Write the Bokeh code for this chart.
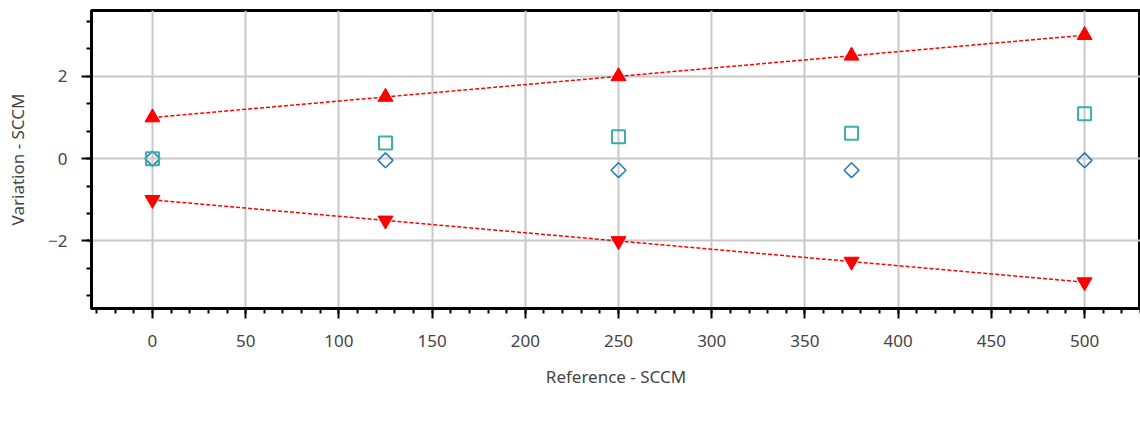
import math
from bokeh.plotting import figure
from bokeh.models import Legend, LegendItem, Range1d, SingleIntervalTicker
from bokeh.embed import file_html
from bokeh.resources import INLINE

reference = [0, 125, 250, 375, 500]
as_left = [0.0, -0.04, -0.28, -0.28, -0.04]
as_found = [0.0, 0.38, 0.53, 0.62, 1.09]
min_acc = [-1.0, -1.5, -2.0, -2.5, -3.0]
max_acc = [1.0, 1.5, 2.0, 2.5, 3.0]
labels = ["Observed Variation - As-Left", "Min. Acceptable Variation",
          "Max Acceptable Variation", "Observed Variation - As-Found"]

FONT = "Noto Sans"
TXT = "#444444"
RED = "#ff0000"
BLUE = "#2b7bba"
TEAL = "#3aafa9"

p = figure(frame_width=1049, frame_height=298, output_backend="svg", toolbar_location=None,
           x_range=Range1d(-32.7, 530.0), y_range=Range1d(-3.64, 3.6),
           min_border_left=91, min_border_right=0, min_border_top=10, min_border_bottom=0)

p.outline_line_color = "black"
p.outline_line_width = 3

for ax in (p.xaxis[0], p.yaxis[0]):
    ax.axis_line_width = 3
    ax.axis_line_color = "black"
    ax.major_tick_line_width = 2
    ax.minor_tick_line_width = 2
    ax.major_tick_out = 10
    ax.major_tick_in = 0
    ax.minor_tick_out = 5
    ax.minor_tick_in = 0
    ax.major_label_text_font = FONT
    ax.major_label_text_font_size = "17px"
    ax.major_label_text_color = TXT
    ax.axis_label_text_font = FONT
    ax.axis_label_text_font_size = "17px"
    ax.axis_label_text_color = TXT
    ax.axis_label_text_font_style = "normal"

p.xaxis.ticker = SingleIntervalTicker(interval=50, num_minor_ticks=5)
p.yaxis.ticker = SingleIntervalTicker(interval=2, num_minor_ticks=3)
p.xaxis.axis_label = "Reference - SCCM"
p.yaxis.axis_label = "Variation - SCCM"
p.xaxis.major_label_standoff = 16
p.xaxis.axis_label_standoff = 15
p.yaxis.major_label_standoff = 14
p.yaxis.axis_label_standoff = 16

p.grid.grid_line_color = "#c8c8c8"
p.grid.grid_line_width = 2
p.grid.minor_grid_line_color = None

dash_style = dict(line_color=RED, line_dash="4 2", line_width=1.5)
tri_style = dict(size=15, color=RED)

l_min = p.line(reference, min_acc, **dash_style)
s_min = p.scatter(reference, min_acc, marker="inverted_triangle", **tri_style)
l_max = p.line(reference, max_acc, **dash_style)
s_max = p.scatter(reference, max_acc, marker="triangle", **tri_style)
s_left = p.scatter(reference, as_left, marker="square", angle=math.pi / 4, size=10.5,
                   line_color=BLUE, fill_color="white", fill_alpha=0, line_width=1.6)
s_found = p.scatter(reference, as_found, marker="square", size=13, line_color=TEAL,
                    fill_color="white", fill_alpha=0, line_width=2)

legend = Legend(items=[
    LegendItem(label=labels[0], renderers=[s_left]),
    LegendItem(label=labels[1], renderers=[l_min, s_min]),
    LegendItem(label=labels[2], renderers=[l_max, s_max]),
    LegendItem(label=labels[3], renderers=[s_found]),
], orientation="horizontal", location="left")
legend.label_text_font = FONT
legend.label_text_font_size = "16px"
legend.label_text_color = TXT
legend.border_line_color = None
legend.background_fill_alpha = 0
legend.glyph_width = 34
legend.glyph_height = 34
legend.spacing = 6
legend.padding = 0
legend.margin = 0
legend.label_standoff = 2
p.add_layout(legend, "below")

open("out.html", "w").write(file_html(p, INLINE))
